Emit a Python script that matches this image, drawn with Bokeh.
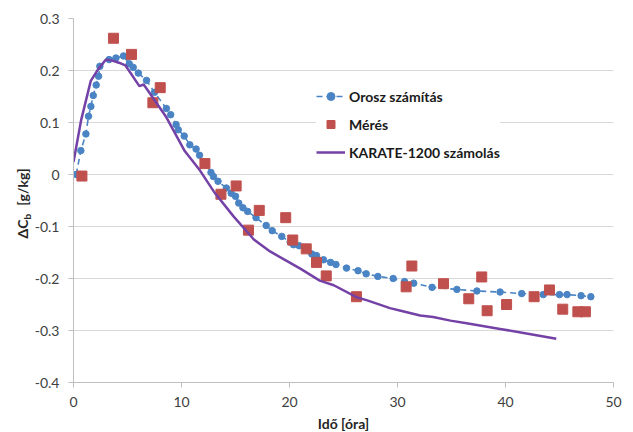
from bokeh.plotting import figure
from bokeh.models import Range1d, FixedTicker, Legend, LegendItem, Label
from bokeh.embed import file_html
from bokeh.resources import INLINE

# --- data -------------------------------------------------------------
orosz_x = [0.25, 0.68, 1.15, 1.39, 1.61, 1.83, 2.10, 2.32, 2.44, 3.30, 3.93, 4.63,
           5.16, 5.53, 6.00, 6.76, 7.50, 8.60, 9.00, 9.50, 9.70, 10.25, 10.77,
           11.35, 11.67, 12.73, 12.96, 13.38, 14.15, 14.60, 15.00, 15.30, 15.69,
           16.12, 16.90, 17.84, 18.40, 19.28, 20.06, 20.37, 20.90, 21.55, 22.07,
           22.50, 23.15, 23.80, 24.30, 25.28, 26.35, 27.10, 28.18, 29.60, 30.65,
           31.50, 33.20, 35.50, 37.35, 39.50, 41.50, 43.50, 45.00, 45.70, 47.00, 47.90]
orosz_y = [0.000, 0.046, 0.078, 0.112, 0.131, 0.152, 0.172, 0.189, 0.208, 0.221, 0.224, 0.228,
           0.213, 0.206, 0.195, 0.181, 0.158, 0.127, 0.115, 0.096, 0.086, 0.074, 0.057,
           0.049, 0.037, 0.004, -0.004, -0.013, -0.026, -0.036, -0.042, -0.055, -0.064,
           -0.071, -0.083, -0.098, -0.108, -0.119, -0.130, -0.135, -0.137, -0.143, -0.153,
           -0.156, -0.164, -0.169, -0.173, -0.180, -0.185, -0.191, -0.196, -0.200, -0.206,
           -0.209, -0.217, -0.221, -0.224, -0.226, -0.229, -0.231, -0.231, -0.231, -0.233, -0.235]

meres_x = [0.78, 3.70, 5.37, 7.35, 8.03, 12.17, 13.65, 15.06, 16.20, 17.20, 19.65,
           20.30, 21.55, 22.50, 23.40, 26.20, 30.80, 31.33, 34.26, 36.60, 37.80,
           38.30, 40.10, 42.65, 44.07, 45.30, 46.70, 47.40]
meres_y = [-0.003, 0.262, 0.231, 0.138, 0.167, 0.021, -0.038, -0.022, -0.107, -0.069, -0.083,
           -0.126, -0.143, -0.169, -0.195, -0.235, -0.216, -0.176, -0.210, -0.239, -0.197,
           -0.262, -0.250, -0.235, -0.222, -0.259, -0.264, -0.264]

karate_x = [0.0, 0.7, 1.6, 2.3, 3.0, 3.6, 4.2, 4.8, 6.1, 6.5, 8.6, 10.3, 11.7, 13.0,
            14.8, 16.7, 18.2, 19.9, 21.0, 22.8, 24.1, 26.2, 27.2, 29.3, 30.3, 32.1,
            33.3, 34.9, 36.4, 39.5, 42.6, 44.7]
karate_y = [0.024, 0.104, 0.180, 0.203, 0.221, 0.219, 0.215, 0.210, 0.170, 0.173, 0.110,
            0.045, 0.008, -0.033, -0.080, -0.125, -0.148, -0.168, -0.181, -0.204, -0.213,
            -0.236, -0.242, -0.257, -0.262, -0.271, -0.274, -0.281, -0.286, -0.297,
            -0.308, -0.316]

series_names = ["Orosz számítás", "Mérés", "KARATE-1200 számolás"]
x_ticks = [0, 10, 20, 30, 40, 50]
y_ticks = [-0.4, -0.3, -0.2, -0.1, 0, 0.1, 0.2, 0.3]
y_tick_labels = ["-0.4", "-0.3", "-0.2", "-0.1", "0", "0.1", "0.2", "0.3"]
x_title = "Idő [óra]"
y_title_main = "ΔC\u00a0\u00a0\u00a0\u00a0[g/kg]"
y_title_sub = "b"

# --- styles -----------------------------------------------------------
FONT = "Lato"
BLUE = "#4a84c4"
RED = "#c0504d"
PURPLE = "#7442a6"
GRID = "#d9d9d9"
TXT = "#404040"

p = figure(frame_width=540, frame_height=364, output_backend="svg", toolbar_location=None,
           x_range=Range1d(0, 50), y_range=Range1d(-0.4, 0.3),
           min_border_left=73, min_border_right=20, min_border_top=18, min_border_bottom=50)
p.outline_line_color = None
p.background_fill_color = "white"
p.border_fill_color = "white"

p.xgrid.visible = False
p.ygrid.grid_line_color = GRID
p.ygrid.grid_line_width = 1

for ax in (p.xaxis, p.yaxis):
    ax.axis_line_color = "#bfbfbf"
    ax.major_tick_line_color = "#bfbfbf"
    ax.major_tick_in = 0
    ax.major_tick_out = 5
    ax.minor_tick_line_color = None
    ax.major_label_text_font = FONT
    ax.major_label_text_font_size = "14px"
    ax.major_label_text_color = TXT

p.xaxis.ticker = FixedTicker(ticks=x_ticks)
p.yaxis.ticker = FixedTicker(ticks=y_ticks)
p.yaxis.major_label_overrides = dict(zip(y_ticks, y_tick_labels))
p.xaxis.major_label_standoff = 9
p.yaxis.major_label_standoff = 9

p.xaxis.axis_label = x_title
p.xaxis.axis_label_text_font = FONT
p.xaxis.axis_label_text_font_style = "bold"
p.xaxis.axis_label_text_font_size = "14px"
p.xaxis.axis_label_text_color = "#262626"
p.xaxis.axis_label_standoff = 5

# series
r_line = p.line(orosz_x, orosz_y, line_color=BLUE, line_width=1.6, line_dash="6 4")
r_dots = p.scatter(orosz_x, orosz_y, marker="circle", size=6.5, fill_color=BLUE, line_color=BLUE)
r_sq = p.scatter(meres_x, meres_y, marker="square", size=10, fill_color=RED, line_color=RED)
r_kar = p.line(karate_x, karate_y, line_color=PURPLE, line_width=2.5)

legend = Legend(items=[LegendItem(label=series_names[0], renderers=[r_line, r_dots]),
                       LegendItem(label=series_names[1], renderers=[r_sq]),
                       LegendItem(label=series_names[2], renderers=[r_kar])],
                location=(243, 220))
legend.label_text_font = FONT
legend.label_text_font_style = "bold"
legend.label_text_font_size = "14px"
legend.label_text_color = "#1a1a1a"
legend.glyph_width = 29
legend.glyph_height = 20
legend.label_height = 20
legend.label_standoff = 4
legend.spacing = 8
legend.padding = 0
legend.margin = 0
legend.border_line_alpha = 0
legend.background_fill_color = "white"
legend.background_fill_alpha = 1
p.add_layout(legend)

# rotated y-axis title with subscript, placed in the left side panel
ycommon = dict(angle=1.5708, x_units="screen", y_units="screen",
               text_font=FONT, text_font_style="bold", text_color="#262626",
               text_baseline="alphabetic", text_align="left")
p.add_layout(Label(x=8, y=144, text=y_title_main, text_font_size="14px", **ycommon), "left")
p.add_layout(Label(x=24, y=163, text=y_title_sub, text_font_size="10px", **ycommon), "left")

open("out.html", "w").write(file_html(p, INLINE))
